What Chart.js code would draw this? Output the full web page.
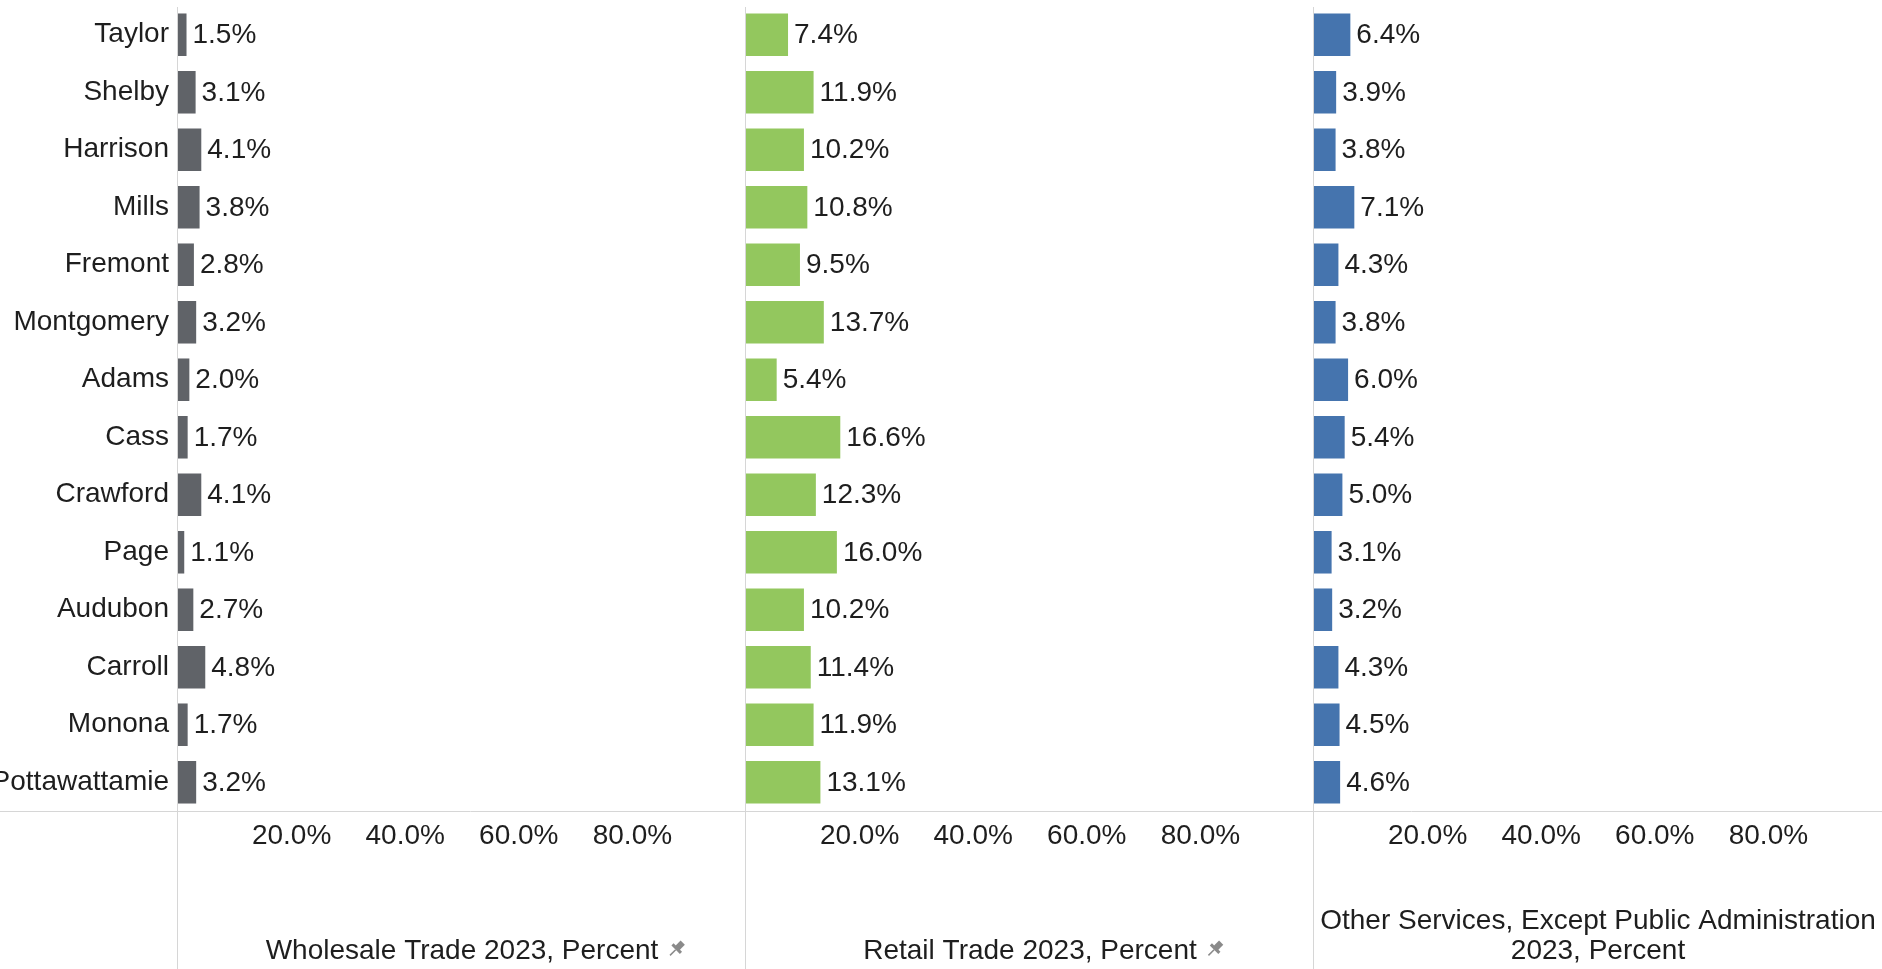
<!DOCTYPE html>
<html>
<head>
<meta charset="utf-8">
<script src="https://cdn.jsdelivr.net/npm/chart.js@4/dist/chart.umd.min.js"></script>
<style>
html,body{margin:0;padding:0;background:#ffffff;overflow:hidden;}
#wrap{position:relative;width:1882px;height:969px;}
</style>
</head>
<body>
<div id="wrap"><canvas id="c" width="1882" height="969"></canvas></div>
<script>
// ---- data ----
const counties = ["Taylor","Shelby","Harrison","Mills","Fremont","Montgomery","Adams","Cass","Crawford","Page","Audubon","Carroll","Monona","Pottawattamie"];
const wholesale = [1.5,3.1,4.1,3.8,2.8,3.2,2.0,1.7,4.1,1.1,2.7,4.8,1.7,3.2];
const retail = [7.4,11.9,10.2,10.8,9.5,13.7,5.4,16.6,12.3,16.0,10.2,11.4,11.9,13.1];
const otherServices = [6.4,3.9,3.8,7.1,4.3,3.8,6.0,5.4,5.0,3.1,3.2,4.3,4.5,4.6];
const tickValues = [20,40,60,80];
const titleWholesale = "Wholesale Trade 2023, Percent";
const titleRetail = "Retail Trade 2023, Percent";
const titleOther = ["Other Services, Except Public Administration","2023, Percent"];

const FONT = '"Liberation Sans", Arial, Helvetica, sans-serif';
const FS = 28;
const TXT = '#1e1e1e';

function xAxis(title){
  return {
    type:'linear', position:'bottom', stack:'panels', stackWeight:1,
    min:0, max:100,
    grid:{display:false, drawTicks:false},
    border:{display:false},
    ticks:{
      stepSize:20, autoSkip:false, maxRotation:0, padding:8,
      color:TXT, font:{family:FONT, size:FS},
      callback:(v)=> tickValues.includes(v) ? v.toFixed(1)+'%' : ''
    },
    title:{display:true, text:title, color:TXT, font:{family:FONT, size:FS, lineHeight:1.07}, padding:{top:0,bottom:3}},
    afterFit:(s)=>{ s.height = 158; s.paddingLeft = 0; s.paddingRight = 0; }
  };
}

const frame = {
  id:'frame',
  beforeDatasetsDraw(chart){
    const {ctx, chartArea} = chart;
    ctx.save();
    ctx.strokeStyle = '#d6d6d6';
    ctx.lineWidth = 1;
    ctx.beginPath();
    const yb = Math.round(chartArea.bottom) + 0.5;
    ctx.moveTo(0, yb); ctx.lineTo(chart.width, yb);
    ['x1','x2','x3'].forEach(id=>{
      const s = chart.scales[id];
      const x = Math.round(s.getPixelForValue(0)) - 0.5;
      ctx.moveTo(x, chartArea.top + 1);
      ctx.lineTo(x, chart.height);
    });
    ctx.stroke();
    ctx.restore();
  }
};

const valueLabels = {
  id:'valueLabels',
  afterDatasetsDraw(chart){
    const ctx = chart.ctx;
    ctx.save();
    ctx.font = FS + 'px ' + FONT;
    ctx.fillStyle = TXT;
    ctx.textAlign = 'left';
    ctx.textBaseline = 'middle';
    chart.data.datasets.forEach((ds, di)=>{
      const meta = chart.getDatasetMeta(di);
      meta.data.forEach((el, i)=>{
        ctx.fillText(ds.data[i].toFixed(1) + '%', el.x + 6, el.y + 1);
      });
    });
    ctx.restore();
  }
};

const pins = {
  id:'pins',
  afterDraw(chart){
    const ctx = chart.ctx;
    ctx.save();
    ctx.font = FS + 'px ' + FONT;
    [['x1', titleWholesale], ['x2', titleRetail]].forEach(([id, t])=>{
      const s = chart.scales[id];
      const w = ctx.measureText(t).width;
      const cx = (s.left + s.right)/2 + w/2 + 18;
      const cy = chart.height - 20;
      ctx.save();
      ctx.translate(cx, cy);
      ctx.rotate(Math.PI/4);
      ctx.fillStyle = '#8a8a8a';
      ctx.strokeStyle = '#8a8a8a';
      ctx.fillRect(-3, -9, 6, 8);
      ctx.fillRect(-6, -2, 12, 3);
      ctx.lineWidth = 1.5;
      ctx.beginPath(); ctx.moveTo(0, 1); ctx.lineTo(0, 9); ctx.stroke();
      ctx.restore();
    });
    ctx.restore();
  }
};

const common = {barPercentage:0.74, categoryPercentage:1, grouped:false, borderWidth:0};

new Chart(document.getElementById('c'), {
  type:'bar',
  data:{
    labels:counties,
    datasets:[
      Object.assign({label:titleWholesale, data:wholesale, xAxisID:'x1', backgroundColor:'#606368'}, common),
      Object.assign({label:titleRetail, data:retail, xAxisID:'x2', backgroundColor:'#93c75e'}, common),
      Object.assign({label:titleOther.join(' '), data:otherServices, xAxisID:'x3', backgroundColor:'#4574ae'}, common)
    ]
  },
  options:{
    indexAxis:'y',
    responsive:false,
    devicePixelRatio:1,
    animation:false,
    layout:{padding:{top:6,left:0,right:0,bottom:0}},
    plugins:{legend:{display:false}, tooltip:{enabled:false}},
    scales:{
      y:{
        type:'category', position:'left',
        grid:{display:false, drawTicks:false},
        border:{display:false},
        ticks:{padding:9, color:TXT, font:{family:FONT, size:FS}},
        afterFit:(s)=>{ s.width = 178; s.paddingTop = 0; s.paddingBottom = 0; }
      },
      x1:xAxis(titleWholesale),
      x2:xAxis(titleRetail),
      x3:xAxis(titleOther)
    }
  },
  plugins:[frame, valueLabels, pins]
});
</script>
</body>
</html>
